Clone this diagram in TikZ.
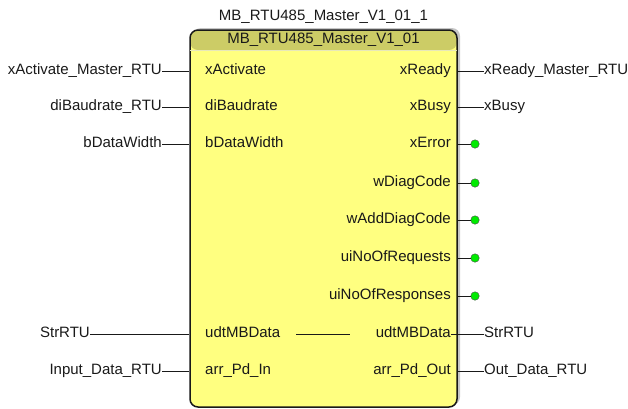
\documentclass[tikz,border=0pt]{standalone}
\usepackage{fontspec}
\setmainfont{Liberation Sans}
\usetikzlibrary{shadows}

\begin{document}
\begin{tikzpicture}[x=1pt,y=-1pt]
            \definecolor{fbyellow}{RGB}{255,255,128}
            \definecolor{fbheader}{RGB}{204,204,102}
            \definecolor{fbgreen}{RGB}{0,235,0}
            \tikzstyle{pintext} = [inner sep=0pt,
            text height=10.6pt,
            text depth=3pt,
            text=black!90,
            font=\fontsize{15}{17}\selectfont]
            \tikzstyle{pinin} = [pintext, anchor=west]
            \tikzstyle{pinout} = [pintext, anchor=east]
            \tikzstyle{varin} = [pintext, anchor=east]
            \tikzstyle{varout} = [pintext, anchor=west]
            \tikzstyle{wire} = [line width=0.8pt, black!90]
            \tikzstyle{openpin} = [circle, draw=black!70, fill=fbgreen, inner sep=0pt, minimum size=8.5pt]
            \tikzstyle{fblock} = [rectangle, rounded corners=8pt,
            minimum width=267pt,
            minimum height=377pt,
            draw=black!90, line width=1.5pt,
            fill=fbyellow,
            drop shadow={shadow xshift=3pt, shadow yshift=2pt, opacity=0.45},
            path picture={\fill[fbheader] (path picture bounding box.north west) rectangle ([yshift=-20pt]path picture bounding box.north east);}]
            \useasboundingbox (0,0) rectangle (628,408);

            \node (fb)[fblock] at (323.5,218.5) {};
            \draw [fbheader!45!white, line width=1pt, shorten <=1pt, shorten >=1pt] (fb.west |- 0,50) -- (fb.east |- 0,50);
            \node (inst)[pintext] at (323.5,17) {MB\_RTU485\_Master\_V1\_01\_1};
            \node (ftype)[pintext] at (323.5,40) {MB\_RTU485\_Master\_V1\_01};

            % inputs
            \node (xActivate)[pinin] at (205,71) {xActivate};
            \node (diBaudrate)[pinin] at (205,107) {diBaudrate};
            \node (bDataWidth)[pinin] at (205,144) {bDataWidth};
            \node (udtMBDataIn)[pinin] at (205,334) {udtMBData};
            \node (arrPdIn)[pinin] at (205,371) {arr\_Pd\_In};

            \node (xActivateMaster)[varin] at (162,71) {xActivate\_Master\_RTU};
            \node (diBaudrateRTU)[varin] at (162,107) {diBaudrate\_RTU};
            \node (bDataWidthVar)[varin] at (162,144) {bDataWidth};
            \node (StrRTUIn)[varin] at (90,334) {StrRTU};
            \node (InputData)[varin] at (162,371) {Input\_Data\_RTU};

            % outputs
            \node (xReady)[pinout] at (451,71) {xReady};
            \node (xBusy)[pinout] at (451,107) {xBusy};
            \node (xError)[pinout] at (451,144) {xError};
            \node (wDiagCode)[pinout] at (451,183) {wDiagCode};
            \node (wAddDiagCode)[pinout] at (451,220) {wAddDiagCode};
            \node (uiNoOfRequests)[pinout] at (451,258) {uiNoOfRequests};
            \node (uiNoOfResponses)[pinout] at (451,296) {uiNoOfResponses};
            \node (udtMBDataOut)[pinout] at (451,334) {udtMBData};
            \node (arrPdOut)[pinout] at (451,371) {arr\_Pd\_Out};

            \node (xReadyMaster)[varout] at (484,71) {xReady\_Master\_RTU};
            \node (xBusyVar)[varout] at (484,107) {xBusy};
            \node (StrRTUOut)[varout] at (484,334) {StrRTU};
            \node (OutData)[varout] at (484,371) {Out\_Data\_RTU};

            \node (dError)[openpin] at (475,144) {};
            \node (dDiagCode)[openpin] at (475,183) {};
            \node (dAddDiagCode)[openpin] at (475,220) {};
            \node (dRequests)[openpin] at (475,258) {};
            \node (dResponses)[openpin] at (475,296) {};

            \draw [wire] (xActivateMaster) -- (xActivate -| fb.west);
            \draw [wire] (diBaudrateRTU) -- (diBaudrate -| fb.west);
            \draw [wire] (bDataWidthVar) -- (bDataWidth -| fb.west);
            \draw [wire] (StrRTUIn) -- (udtMBDataIn -| fb.west);
            \draw [wire] (InputData) -- (arrPdIn -| fb.west);
            \draw [wire, shorten <=16pt, shorten >=26pt] (udtMBDataIn) -- (udtMBDataOut);

            \draw [wire] (xReady -| fb.east) -- (xReadyMaster);
            \draw [wire] (xBusy -| fb.east) -- (xBusyVar);
            \draw [wire] (udtMBDataOut) -- (StrRTUOut);
            \draw [wire] (arrPdOut -| fb.east) -- (OutData);
            \draw [wire] (xError -| fb.east) -- (dError);
            \draw [wire] (wDiagCode -| fb.east) -- (dDiagCode);
            \draw [wire] (wAddDiagCode -| fb.east) -- (dAddDiagCode);
            \draw [wire] (uiNoOfRequests -| fb.east) -- (dRequests);
            \draw [wire] (uiNoOfResponses -| fb.east) -- (dResponses);
        \end{tikzpicture}
\end{document}
